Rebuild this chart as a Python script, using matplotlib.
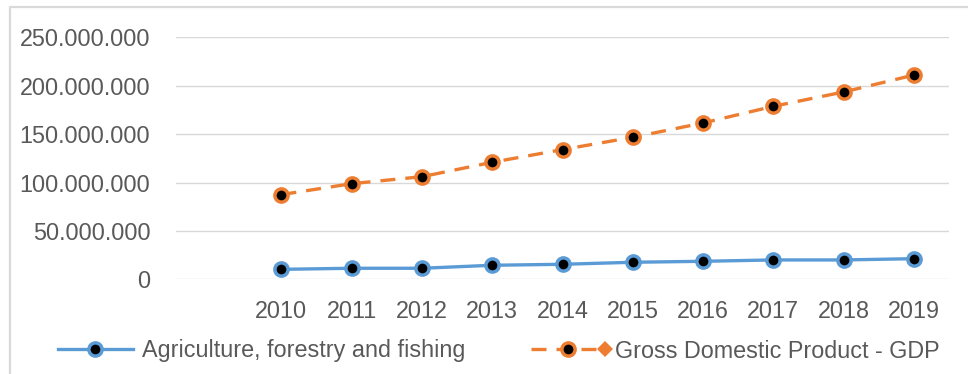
import matplotlib
matplotlib.use("Agg")
import matplotlib.pyplot as plt
from matplotlib.lines import Line2D
from matplotlib.legend_handler import HandlerBase
from matplotlib.ticker import FuncFormatter

# values (current prices, thousands)
years = ["2010", "2011", "2012", "2013", "2014", "2015", "2016", "2017", "2018", "2019"]
agriculture = [10.3e6, 11.4e6, 11.4e6, 14.5e6, 15.5e6, 17.6e6, 18.6e6, 20.0e6, 20.0e6, 21.3e6]
gdp = [87.5e6, 98.8e6, 106.0e6, 120.9e6, 134.0e6, 146.7e6, 161.5e6, 178.7e6, 193.5e6, 211.0e6]
labels = ["Agriculture, forestry and fishing", "Gross Domestic Product - GDP"]

BLUE = "#5b9bd5"
ORANGE = "#ed7d31"
TEXT = "#595959"
GRID = "#d9d9d9"
FS = 16.8

plt.rcParams["font.family"] = ["Liberation Sans", "DejaVu Sans"]

# first category of the source sheet is empty, the years sit in slots 1..10
xs = list(range(1, len(years) + 1))

fig = plt.figure(figsize=(9.68, 3.74), dpi=100)
ax = fig.add_axes([176 / 968, 1 - 279.3 / 374, (949 - 176) / 968, (279.3 - 37.3) / 374])

marker_kw = dict(marker="o", markersize=9.5, markerfacecolor="black", markeredgewidth=2.5)
ax.plot(xs, agriculture, color=BLUE, lw=2.4, markeredgecolor=BLUE, **marker_kw, zorder=3)
ax.plot(xs, gdp, color=ORANGE, lw=2.4, ls=(0, (4.5, 3)), markeredgecolor=ORANGE, **marker_kw, zorder=3)

ax.set_xlim(-0.5, len(years) + 0.5)
ax.set_ylim(0, 250e6)
ax.set_yticks([0, 50e6, 100e6, 150e6, 200e6, 250e6])
ax.yaxis.set_major_formatter(FuncFormatter(lambda v, _: f"{v:,.0f}".replace(",", ".")))
ax.set_xticks([0] + xs)
ax.set_xticklabels([""] + years)

ax.grid(axis="y", color=GRID, lw=1.0)
ax.set_axisbelow(True)
for s in ax.spines.values():
    s.set_visible(False)
ax.tick_params(axis="both", length=0, labelsize=FS, labelcolor=TEXT)
ax.tick_params(axis="x", pad=15)
ax.tick_params(axis="y", pad=18.5)


class GdpHandler(HandlerBase):
    # dashed sample with the dot in the middle and a stray diamond at the end
    def create_artists(self, legend, orig_handle, xdescent, ydescent, width, height, fontsize, trans):
        y = height / 2 - ydescent
        x0, x1 = -xdescent, width - xdescent
        line = Line2D([x0, x1], [y, y], color=ORANGE, lw=2.4, ls=(0, (4.5, 3)))
        dot = Line2D([(x0 + x1) / 2], [y], color=ORANGE, markeredgecolor=ORANGE, **marker_kw)
        dia = Line2D([x1], [y], marker="D", markersize=8, color=ORANGE, markeredgewidth=0)
        for a in (line, dot, dia):
            a.set_transform(trans)
        return [line, dot, dia]


h_agri = Line2D([], [], color=BLUE, lw=2.4, markeredgecolor=BLUE, **marker_kw)
h_gdp = Line2D([], [], color=ORANGE)
leg = fig.legend([h_agri, h_gdp], labels, loc="center", bbox_to_anchor=(498.5 / 968, 1 - 351 / 374),
                 ncol=2, frameon=False, fontsize=FS, handlelength=3.2, handletextpad=0.4,
                 columnspacing=2.8, borderpad=0, borderaxespad=0,
                 handler_map={h_gdp: GdpHandler()})
for t in leg.get_texts():
    t.set_color(TEXT)

# chart-area border (only the left and top edges are inside the crop)
fig.add_artist(Line2D([10 / 968, 10 / 968, 1], [0, 1 - 7 / 374, 1 - 7 / 374],
                      transform=fig.transFigure, color=GRID, lw=1.6))

fig.savefig("out.png", dpi=100)
